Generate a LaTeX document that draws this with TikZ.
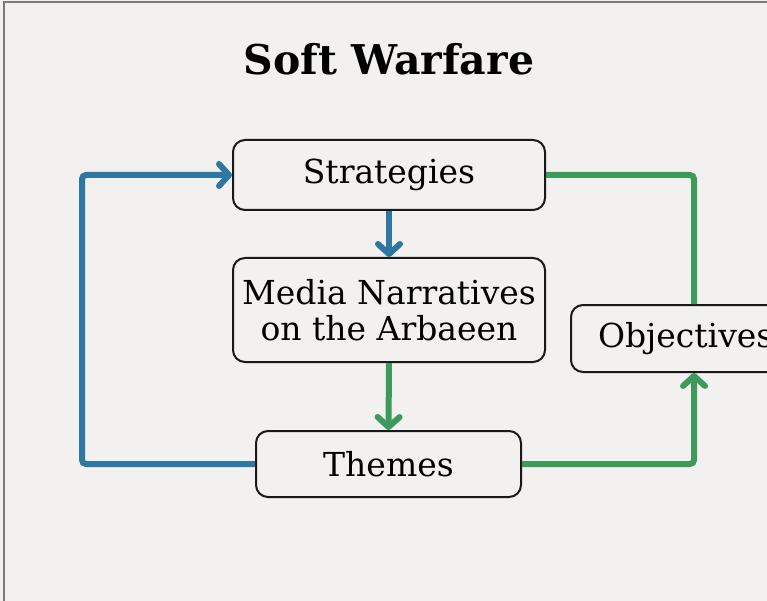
\documentclass[tikz,border=0pt]{standalone}
\usepackage{fontspec}
\setmainfont{DejaVu Serif}
\usetikzlibrary{arrows.meta}
\definecolor{bgc}{HTML}{F2F1EF}
\definecolor{blueline}{HTML}{2F77A3}
\definecolor{greenline}{HTML}{3E9A5C}
\definecolor{framec}{HTML}{7A7A7A}
\tikzset{
  box/.style={draw=black!90, line width=2pt, rounded corners=12pt, fill=bgc,
    font=\fontsize{33}{36}\selectfont, align=center, inner sep=0pt},
  bluecon/.style={draw=blueline, line width=6pt, rounded corners=4pt},
  greencon/.style={draw=greenline, line width=6pt, rounded corners=4pt},
  tip/.style={-{Straight Barb[length=10pt,width=22pt,round]}},
}
\begin{document}
\begin{tikzpicture}[x=1pt,y=-1pt]
\useasboundingbox (0,0) rectangle (767,601);
\clip (0,0) rectangle (767,601);
\fill[bgc] (0,0) rectangle (767,601);
\draw[framec, line width=1.5pt] (4,601) -- (4,2) -- (767,2);

\node[font=\fontsize{41}{45}\selectfont\bfseries] (title) at (389,59) {Soft Warfare};

\node[box, minimum width=312pt, minimum height=70pt] (strat) at (389,175) {Strategies};
\node[box, minimum width=312pt, minimum height=104pt] (media) at (389,310) {Media Narratives\\on the Arbaeen};
\node[box, minimum width=265pt, minimum height=66pt] (themes) at (388.5,464) {Themes};
\node[box, anchor=west, minimum height=67pt, inner xsep=27pt] (obj) at (570,338.5) {Objectives\hspace{40pt}};

\draw[bluecon, tip] (themes.west) -| ([xshift=-150pt]strat.west) -- (strat.west);
\draw[bluecon, tip, rounded corners=0pt] (strat.south) -- (media.north);
\draw[greencon, tip, rounded corners=0pt] (media.south) -- (themes.north);
\draw[greencon, tip] (themes.east) -| ([xshift=124pt]obj.south west);
\draw[greencon] (strat.east) -| ([xshift=124pt]obj.north west);
\end{tikzpicture}
\end{document}
